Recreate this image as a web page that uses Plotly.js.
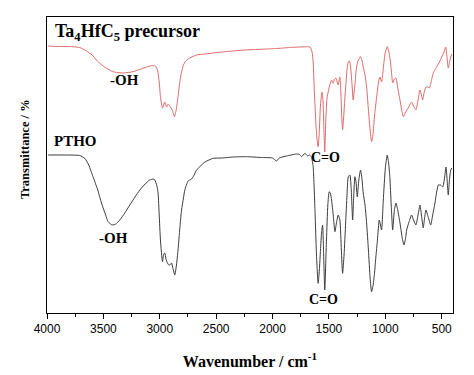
<!DOCTYPE html>
<html><head><meta charset="utf-8">
<script src="https://cdn.plot.ly/plotly-3.0.1.min.js"></script>
<style>html,body{margin:0;padding:0;background:#fff}#chart{width:474px;height:375px}</style>
</head><body><div id="chart"></div>
<script>
const precursorWavenumber = [3990,3900,3800,3710,3650,3600,3562,3520,3473,3430,3384,3320,3237,3180,3118,3070,3040,3020,3005,2994,2976,2956,2940,2925,2911,2890,2870,2855,2838,2820,2807,2790,2770,2734,2674,2600,2526,2450,2350,2250,2150,2050,1965,1935,1850,1750,1690,1665,1650,1640,1628,1615,1605,1596,1587,1575,1562,1553,1545,1537,1528,1517,1507,1490,1477,1462,1450,1438,1425,1418,1410,1403,1395,1387,1379,1370,1360,1352,1340,1329,1318,1308,1297,1285,1270,1255,1240,1220,1208,1196,1180,1166,1150,1135,1122,1110,1095,1077,1060,1048,1033,1015,1000,983,968,953,943,935,920,906,890,870,855,840,820,797,780,767,750,729,710,693,680,669,655,640,625,610,590,575,560,545,520,500,480,465,455,442,430,420,410];
const precursorT = [267,266.5,266.5,265.5,262,258,253,248.5,244.7,242,240.5,240,241.3,243.5,246,247.5,247,243,231,216.3,205,211,206,209,207,203,196.3,203,216.3,233,241,248,252,255,258,259,260,261,262,263,263.5,264,264.5,264.7,265.5,266,266.3,265.7,261,251,218,188,173,166,178,208,221,213,185,161,193,215,221,229,233,229.7,234,234.7,230,228,233,236,223,198,183,195,213,225,243,251,252,246,231,213,228,246,253,256.3,253,246,238,226,203,183,171.3,178,198,216,231,236,231,248,261,266.3,261,250,238,230,234,235,225,213,203,196.3,201,205,209,211,207,203,213,223,218,213,221,226,226,225,233,240,243,246,251,256,261,266,258,245,251,256,259];

const pthoWavenumber = [3990,3850,3710,3665,3630,3592,3550,3517,3480,3459,3430,3414,3390,3355,3310,3266,3220,3177,3130,3089,3060,3044,3025,3015,3005,2994,2976,2965,2956,2945,2932,2920,2911,2896,2880,2867,2852,2838,2822,2807,2790,2778,2749,2719,2700,2674,2645,2600,2526,2450,2350,2231,2100,2000,1965,1940,1876,1787,1760,1743,1713,1690,1672,1655,1640,1625,1610,1596,1585,1575,1565,1556,1547,1537,1522,1510,1498,1488,1477,1462,1447,1432,1418,1403,1390,1379,1366,1352,1340,1329,1314,1302,1290,1280,1270,1260,1249,1235,1220,1208,1196,1180,1166,1150,1135,1122,1108,1095,1084,1070,1054,1043,1033,1018,1000,983,972,960,948,935,920,906,890,870,850,835,820,811,790,767,750,729,710,693,680,664,652,640,620,598,580,560,545,530,510,491,475,462,452,442,430,420,410];
const pthoT = [158,158,157.5,154.7,148,136.3,123,110,98,91.3,88.5,88,89,93,100,108,116,123,129,133,134,133,127,120,98,73,51.3,59,60,54,50,48,48,50,43,38,48,63,85,103,115,123,132,134,137,143,146.3,151,154.7,155,156,156.3,155.5,155,152,155,157,159,158.5,156.3,159.7,157,158,156,146.3,106.3,56.3,29.7,43,63,81,88,58,23,73,108,121.3,120,113,98,81.3,91,98,93,63,39.7,58,90,118,136,138,123,93,118,136.3,131,116.3,133,143,135,120,108,90,63,35,21.3,28,41,56,73,93,88,83,113,145,158,151,136.3,108,83,103,110,103,90,75,68,75,83,91,98,93,88,98,108,98,85,95,103,96,88,98,110,121,128,128,126,135,146,133,118,135,143,145];

const xTickVals = [4000,3500,3000,2500,2000,1500,1000,500];
const xTickText = ['4000','3500','3000','2500','2000','1500','1000','500'];

const serifBold = {family:'"Liberation Serif", "Times New Roman", serif', color:'#000'};

const traces = [
  {x: precursorWavenumber, y: precursorT, mode:'lines', type:'scatter',
   line:{color:'#e06a6a', width:1, shape:'spline', smoothing:0.5}, hoverinfo:'skip'},
  {x: pthoWavenumber, y: pthoT, mode:'lines', type:'scatter',
   line:{color:'#3c3c3c', width:1, shape:'spline', smoothing:0.5}, hoverinfo:'skip'}
];

const ann = (text, x, y, size, xanchor) => ({text: '<b>'+text+'</b>', xref:'paper', yref:'paper', x, y,
  xanchor: xanchor || 'center', yanchor:'middle', showarrow:false,
  font: Object.assign({size}, serifBold)});

const yTitle = ann('Transmittance / %', -0.054, 0.554, 12.5);
yTitle.textangle = -90;

const layout = {
  width:474, height:375,
  margin:{l:47, r:21, t:17, b:62},
  paper_bgcolor:'#fff', plot_bgcolor:'#fff',
  showlegend:false,
  xaxis:{range:[4000,400], tickmode:'array', tickvals:xTickVals, ticktext:xTickText,
    ticks:'outside', ticklen:5, tickwidth:1, tickcolor:'#000',
    minor:{tickvals:[3750,3250,2750,2250,1750,1250,750], ticks:'outside', ticklen:3, tickcolor:'#000', tickwidth:1},
    showline:true, linecolor:'#000', linewidth:1, mirror:true, showgrid:false, zeroline:false,
    tickfont:{family:'"Liberation Sans", Arial, sans-serif', size:12, color:'#000'},
    title:{text:'<b>Wavenumber / cm<sup>-1</sup></b>', font:Object.assign({size:16}, serifBold), standoff:20}},
  yaxis:{range:[0,296], showticklabels:false, ticks:'', showline:true, linecolor:'#000', linewidth:1,
    mirror:true, showgrid:false, zeroline:false},
  annotations:[
    yTitle,
    ann('Ta<sub>4</sub>HfC<sub>5</sub> precursor', 0.014, 0.946, 18, 'left'),
    ann('PTHO', 0.012, 0.581, 15, 'left'),
    ann('-OH', 0.19, 0.787, 15),
    ann('-OH', 0.163, 0.253, 15),
    ann('C=O', 0.685, 0.527, 14),
    ann('C=O', 0.682, 0.044, 14)
  ]
};
Plotly.newPlot('chart', traces, layout, {displayModeBar:false, staticPlot:true});
</script></body></html>
